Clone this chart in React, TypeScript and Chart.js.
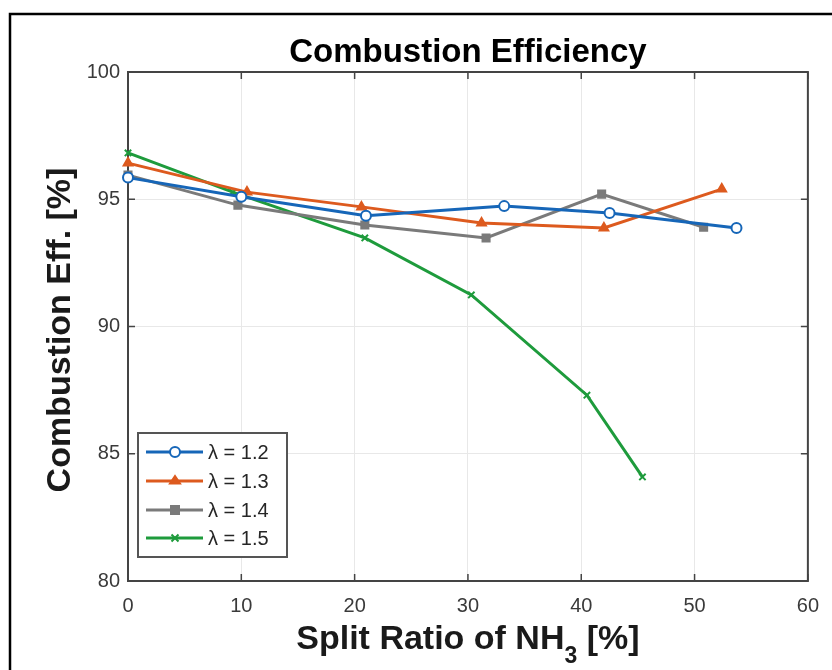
import React, { useEffect, useRef } from "react";
import { Chart, registerables } from "chart.js";

Chart.register(...registerables);

const CHART_TITLE = "Combustion Efficiency";
const Y_TITLE = "Combustion Eff. [%]";
const X_TITLE_MAIN = "Split Ratio of NH";
const X_TITLE_SUB = "3";
const X_TITLE_END = " [%]";

const seriesLabels = ["λ = 1.2", "λ = 1.3", "λ = 1.4", "λ = 1.5"];
const seriesColors = ["#1666B8", "#DD5A1E", "#7A7A7A", "#1E9B3C"];
const seriesMarkers = ["circle", "triangle", "rect", "crossRot"];

const lambda12X = [0, 10, 21, 33.2, 42.5, 53.7];
const lambda12Y = [95.85, 95.1, 94.35, 94.73, 94.46, 93.87];
const lambda13X = [0, 10.5, 20.6, 31.2, 42.0, 52.4];
const lambda13Y = [96.42, 95.28, 94.7, 94.07, 93.87, 95.4];
const lambda14X = [0, 9.7, 20.9, 31.6, 41.8, 50.8];
const lambda14Y = [95.95, 94.77, 93.99, 93.48, 95.2, 93.9];
const lambda15X = [0, 9.25, 20.9, 30.3, 40.5, 45.4];
const lambda15Y = [96.82, 95.28, 93.48, 91.24, 87.3, 84.09];

const xTicks = [0, 10, 20, 30, 40, 50, 60];
const yTicks = [80, 85, 90, 95, 100];

const allX = [lambda12X, lambda13X, lambda14X, lambda15X];
const allY = [lambda12Y, lambda13Y, lambda14Y, lambda15Y];

const FONT = "'Liberation Sans', Arial, Helvetica, sans-serif";
const TICK_COLOR = "#3a3a3a";
const AXIS_COLOR = "#444444";

function drawMarker(ctx: CanvasRenderingContext2D, style: string, x: number, y: number, r: number, color: string) {
  ctx.save();
  ctx.strokeStyle = color;
  ctx.fillStyle = color;
  ctx.lineWidth = 2;
  ctx.beginPath();
  if (style === "circle") {
    ctx.arc(x, y, r, 0, Math.PI * 2);
    ctx.fillStyle = "#ffffff";
    ctx.fill();
    ctx.stroke();
  } else if (style === "triangle") {
    const h = r * 1.5;
    ctx.moveTo(x, y - h * 0.67);
    ctx.lineTo(x + r, y + h * 0.33);
    ctx.lineTo(x - r, y + h * 0.33);
    ctx.closePath();
    ctx.fill();
    ctx.stroke();
  } else if (style === "rect") {
    ctx.rect(x - r * 0.8, y - r * 0.8, r * 1.6, r * 1.6);
    ctx.fill();
    ctx.stroke();
  } else {
    const d = r * 0.7;
    ctx.moveTo(x - d, y - d);
    ctx.lineTo(x + d, y + d);
    ctx.moveTo(x + d, y - d);
    ctx.lineTo(x - d, y + d);
    ctx.stroke();
  }
  ctx.restore();
}

const decorPlugin = {
  id: "decor",
  beforeDraw(chart: any) {
    const ctx = chart.ctx as CanvasRenderingContext2D;
    ctx.save();
    ctx.fillStyle = "#ffffff";
    ctx.fillRect(0, 0, chart.width, chart.height);
    ctx.restore();
  },
  beforeDatasetsDraw(chart: any) {
    const ctx = chart.ctx as CanvasRenderingContext2D;
    const a = chart.chartArea;
    const xs = chart.scales.x;
    const ys = chart.scales.y;
    ctx.save();
    ctx.strokeStyle = AXIS_COLOR;
    ctx.lineWidth = 2;
    ctx.strokeRect(a.left, a.top, a.right - a.left, a.bottom - a.top);
    ctx.lineWidth = 1.5;
    ctx.beginPath();
    const tl = 7;
    for (const v of xTicks) {
      const px = xs.getPixelForValue(v);
      ctx.moveTo(px, a.bottom);
      ctx.lineTo(px, a.bottom - tl);
      ctx.moveTo(px, a.top);
      ctx.lineTo(px, a.top + tl);
    }
    for (const v of yTicks) {
      const py = ys.getPixelForValue(v);
      ctx.moveTo(a.left, py);
      ctx.lineTo(a.left + tl, py);
      ctx.moveTo(a.right, py);
      ctx.lineTo(a.right - tl, py);
    }
    ctx.stroke();
    ctx.restore();
  },
  afterDatasetsDraw(chart: any) {
    const ctx = chart.ctx as CanvasRenderingContext2D;
    const a = chart.chartArea;
    ctx.save();

    // outer border
    ctx.strokeStyle = "#000000";
    ctx.lineWidth = 2.5;
    ctx.strokeRect(10, 14, 1000, 1000);

    // title
    ctx.fillStyle = "#000000";
    ctx.font = `bold 33px ${FONT}`;
    ctx.textAlign = "center";
    ctx.textBaseline = "alphabetic";
    ctx.fillText(CHART_TITLE, (a.left + a.right) / 2, 62);

    // y title
    ctx.save();
    ctx.translate(70, 330);
    ctx.rotate(-Math.PI / 2);
    ctx.fillStyle = "#1a1a1a";
    ctx.font = `bold 34px ${FONT}`;
    ctx.textAlign = "center";
    ctx.fillText(Y_TITLE, 0, 0);
    ctx.restore();

    // x title with subscript
    ctx.fillStyle = "#1a1a1a";
    ctx.font = `bold 34px ${FONT}`;
    const w1 = ctx.measureText(X_TITLE_MAIN).width;
    const w3 = ctx.measureText(X_TITLE_END).width;
    ctx.font = `bold 23px ${FONT}`;
    const w2 = ctx.measureText(X_TITLE_SUB).width;
    const total = w1 + w2 + w3;
    let sx = (a.left + a.right) / 2 - total / 2;
    const base = 649;
    ctx.textAlign = "left";
    ctx.font = `bold 34px ${FONT}`;
    ctx.fillText(X_TITLE_MAIN, sx, base);
    sx += w1;
    ctx.font = `bold 23px ${FONT}`;
    ctx.fillText(X_TITLE_SUB, sx, base + 14);
    sx += w2;
    ctx.font = `bold 34px ${FONT}`;
    ctx.fillText(X_TITLE_END, sx, base);

    // legend
    const lx = 138, ly = 433, lw = 149, lh = 124;
    ctx.fillStyle = "#ffffff";
    ctx.fillRect(lx, ly, lw, lh);
    ctx.strokeStyle = "#555555";
    ctx.lineWidth = 2;
    ctx.strokeRect(lx, ly, lw, lh);
    const rows = [452, 481, 510, 538];
    ctx.font = `20px ${FONT}`;
    ctx.textBaseline = "middle";
    seriesLabels.forEach((lab, i) => {
      const y = rows[i];
      ctx.strokeStyle = seriesColors[i];
      ctx.lineWidth = 3;
      ctx.beginPath();
      ctx.moveTo(146, y);
      ctx.lineTo(203, y);
      ctx.stroke();
      drawMarker(ctx, seriesMarkers[i], 175, y, 5, seriesColors[i]);
      ctx.fillStyle = "#262626";
      ctx.textAlign = "left";
      ctx.fillText(lab, 208, y + 1);
    });
    ctx.restore();
  },
};

export default function App() {
  const ref = useRef<HTMLCanvasElement | null>(null);
  useEffect(() => {
    if (!ref.current) return;
    const datasets = seriesLabels.map((lab, i) => ({
      label: lab,
      data: allX[i].map((x, j) => ({ x, y: allY[i][j] })),
      borderColor: seriesColors[i],
      backgroundColor: seriesMarkers[i] === "circle" ? "#ffffff" : seriesColors[i],
      borderWidth: 3,
      pointStyle: seriesMarkers[i] as any,
      pointRadius: seriesMarkers[i] === "crossRot" ? 4.5 : 5,
      pointBorderWidth: 2,
      pointBorderColor: seriesColors[i],
      pointBackgroundColor: seriesMarkers[i] === "circle" ? "#ffffff" : seriesColors[i],
      tension: 0,
      fill: false,
      clip: false as any,
    }));
    const chart = new Chart(ref.current, {
      type: "line",
      data: { datasets },
      options: {
        animation: false,
        responsive: false,
        maintainAspectRatio: false,
        layout: { padding: { left: 68, right: 23, top: 72, bottom: 0 } },
        plugins: { legend: { display: false }, title: { display: false }, tooltip: { enabled: false } },
        scales: {
          x: {
            type: "linear",
            min: 0,
            max: 60,
            afterBuildTicks: (s: any) => { s.ticks = xTicks.map((v) => ({ value: v })); },
            afterFit: (s: any) => { s.height = 89; },
            ticks: { color: TICK_COLOR, font: { size: 20, family: FONT }, padding: 13, maxRotation: 0 },
            grid: { color: "#e8e8e8", lineWidth: 1, drawTicks: false },
            border: { display: false },
          },
          y: {
            type: "linear",
            min: 80,
            max: 100,
            afterBuildTicks: (s: any) => { s.ticks = yTicks.map((v) => ({ value: v })); },
            afterFit: (s: any) => { s.width = 60; },
            ticks: { color: TICK_COLOR, font: { size: 20, family: FONT }, padding: 8 },
            grid: { color: "#e8e8e8", lineWidth: 1, drawTicks: false },
            border: { display: false },
          },
        },
      },
      plugins: [decorPlugin],
    });
    return () => chart.destroy();
  }, []);
  return (
    <div style={{ position: "absolute", left: 0, top: 0, width: 832, height: 670 }}>
      <canvas ref={ref} width={832} height={670} style={{ width: 832, height: 670, display: "block" }} />
    </div>
  );
}
